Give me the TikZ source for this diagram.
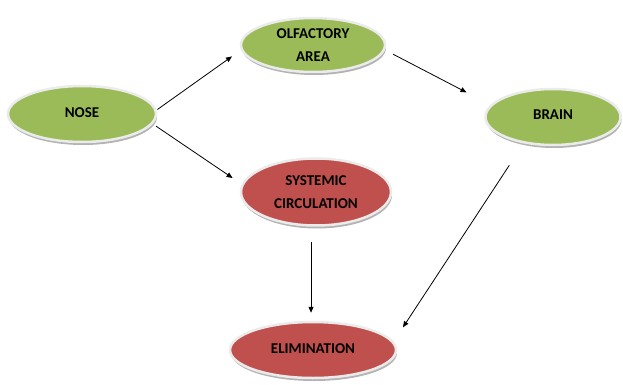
\documentclass[tikz,border=0pt]{standalone}
\usepackage{fontspec}
\setmainfont{Carlito}
\usetikzlibrary{arrows.meta,shapes.geometric,shadows}

\definecolor{leafgreen}{HTML}{9BBB59}
\definecolor{brickred}{HTML}{C0504D}

\begin{document}
\begin{tikzpicture}[
      x=1pt, y=-1pt,
      font=\fontsize{15}{23}\selectfont\bfseries,
      blob/.style={ellipse, draw=white!92!black, line width=2.5pt, align=center, inner sep=0pt,
        drop shadow={shadow xshift=1pt, shadow yshift=-3pt, fill=black!50, opacity=0.6}},
      gblob/.style={blob, fill=leafgreen},
      rblob/.style={blob, fill=brickred},
      link/.style={->, line width=0.8pt},
      >={Triangle[length=6pt,width=5pt]}
    ]
    \useasboundingbox (0,0) rectangle (623,385);

    % Nodes
    \node[gblob, minimum width=148pt, minimum height=56pt] (nose) at (82,114) {\raisebox{2pt}{NOSE}};
    \node[gblob, minimum width=144pt, minimum height=54pt] (olf) at (313,45) {OLFACTORY\\AREA};
    \node[gblob, minimum width=135pt, minimum height=56pt] (brain) at (553,117) {\raisebox{4pt}{BRAIN}};
    \node[rblob, minimum width=150pt, minimum height=67pt] (sys) at (316,192) {SYSTEMIC\\CIRCULATION};
    \node[rblob, minimum width=166pt, minimum height=56pt] (elim) at (313,350) {\raisebox{2pt}{ELIMINATION}};

    % Connectors
    \draw[link, shorten <=1pt, shorten >=11pt] (nose.3) -- (olf.184);
    \draw[link, shorten <=4pt, shorten >=11pt] (nose.-8) -- (sys.174);
    \draw[link, shorten <=9pt, shorten >=27pt] (olf.-4) -- (brain.169);
    \draw[link, shorten <=15pt, shorten >=8pt] ([xshift=-5pt]sys.south) -- ([xshift=-2pt]elim.north);
    \draw[link, shorten <=26pt, shorten >=17pt] (brain.222) -- (elim.6);

\end{tikzpicture}
\end{document}
